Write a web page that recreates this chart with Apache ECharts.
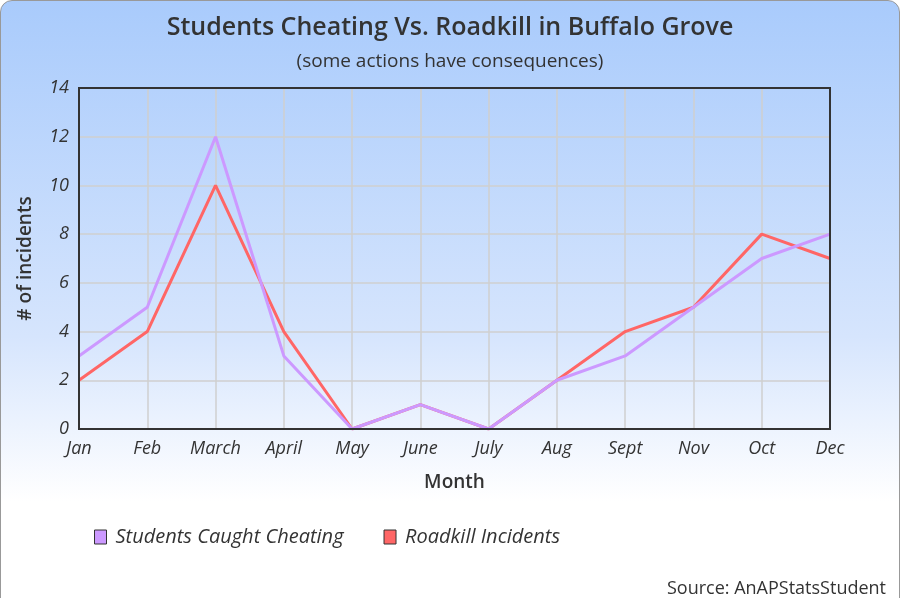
<!DOCTYPE html>
<html><head><meta charset="utf-8">
<script src="https://cdn.jsdelivr.net/npm/echarts@6/dist/echarts.min.js"></script>
<style>
html,body{margin:0;padding:0;background:#fff;}
#c{position:absolute;left:0;top:0;width:898px;height:610px;border:1px solid #999;border-radius:12px;overflow:hidden;
background:linear-gradient(to bottom,#a9cbfc 0%,#d6e5fd 55%,#ffffff 82%,#ffffff 100%);}
</style></head>
<body><div id="c"></div>
<script>
const months = ['Jan','Feb','March','April','May','June','July','Aug','Sept','Nov','Oct','Dec'];
const cheating = [3,5,12,3,0,1,0,2,3,5,7,8];
const roadkill = [2,4,10,4,0,1,0,2,4,5,8,7];
const yTicks = {min:0,max:14,interval:2};

const chart = echarts.init(document.getElementById('c'), null, {width:898,height:610});
const F = '"Open Sans", sans-serif';
chart.setOption({
  animation:false,
  title:[
    {text:'Students Cheating Vs. Roadkill in Buffalo Grove',left:'center',top:9,
     textStyle:{fontFamily:F,fontSize:25,fontWeight:600,color:'#333'}},
    {text:'(some actions have consequences)',left:'center',top:46,
     textStyle:{fontFamily:F,fontSize:19,fontWeight:'normal',color:'#333'}},
    {text:'Source: AnAPStatsStudent',right:8,top:574,
     textStyle:{fontFamily:F,fontSize:18,fontWeight:'normal',color:'#333'}}
  ],
  grid:{left:78,right:69,top:87,bottom:182,show:true,borderColor:'#333',borderWidth:2,backgroundColor:'transparent',z:5},
  legend:{left:88,top:521,itemGap:40,icon:'rect',itemWidth:12,itemHeight:14,
    textStyle:{fontFamily:F,fontSize:20,fontStyle:'italic',color:'#333',padding:[0,0,0,4]},
    data:[{name:'Students Caught Cheating',itemStyle:{borderColor:'#333',borderWidth:1}},
          {name:'Roadkill Incidents',itemStyle:{borderColor:'#333',borderWidth:1}}]},
  xAxis:{type:'category',data:months,boundaryGap:false,
    name:'Month',nameLocation:'middle',nameGap:44,
    nameTextStyle:{fontFamily:F,fontSize:19,fontWeight:600,color:'#333'},
    axisLine:{show:false},axisTick:{show:false},
    axisLabel:{fontFamily:F,fontSize:18,fontStyle:'italic',color:'#333',margin:11},
    splitLine:{show:true,lineStyle:{color:'#cfcfcf',width:1.5}}},
  yAxis:{type:'value',min:yTicks.min,max:yTicks.max,interval:yTicks.interval,
    name:'# of incidents',nameLocation:'middle',nameGap:44,nameRotate:90,
    nameTextStyle:{fontFamily:F,fontSize:19,fontWeight:600,color:'#333'},
    axisLine:{show:false},axisTick:{show:false},
    axisLabel:{fontFamily:F,fontSize:18,fontStyle:'italic',color:'#333',margin:10},
    splitLine:{show:true,lineStyle:{color:'#cfcfcf',width:1.5}}},
  series:[
    {name:'Students Caught Cheating',type:'line',data:cheating,showSymbol:false,symbol:'none',z:3,
     color:'#cc99ff',lineStyle:{width:3,color:'#cc99ff'}},
    {name:'Roadkill Incidents',type:'line',data:roadkill,showSymbol:false,symbol:'none',z:2,
     color:'#ff6666',lineStyle:{width:3,color:'#ff6666'}}
  ]
});
</script></body></html>
